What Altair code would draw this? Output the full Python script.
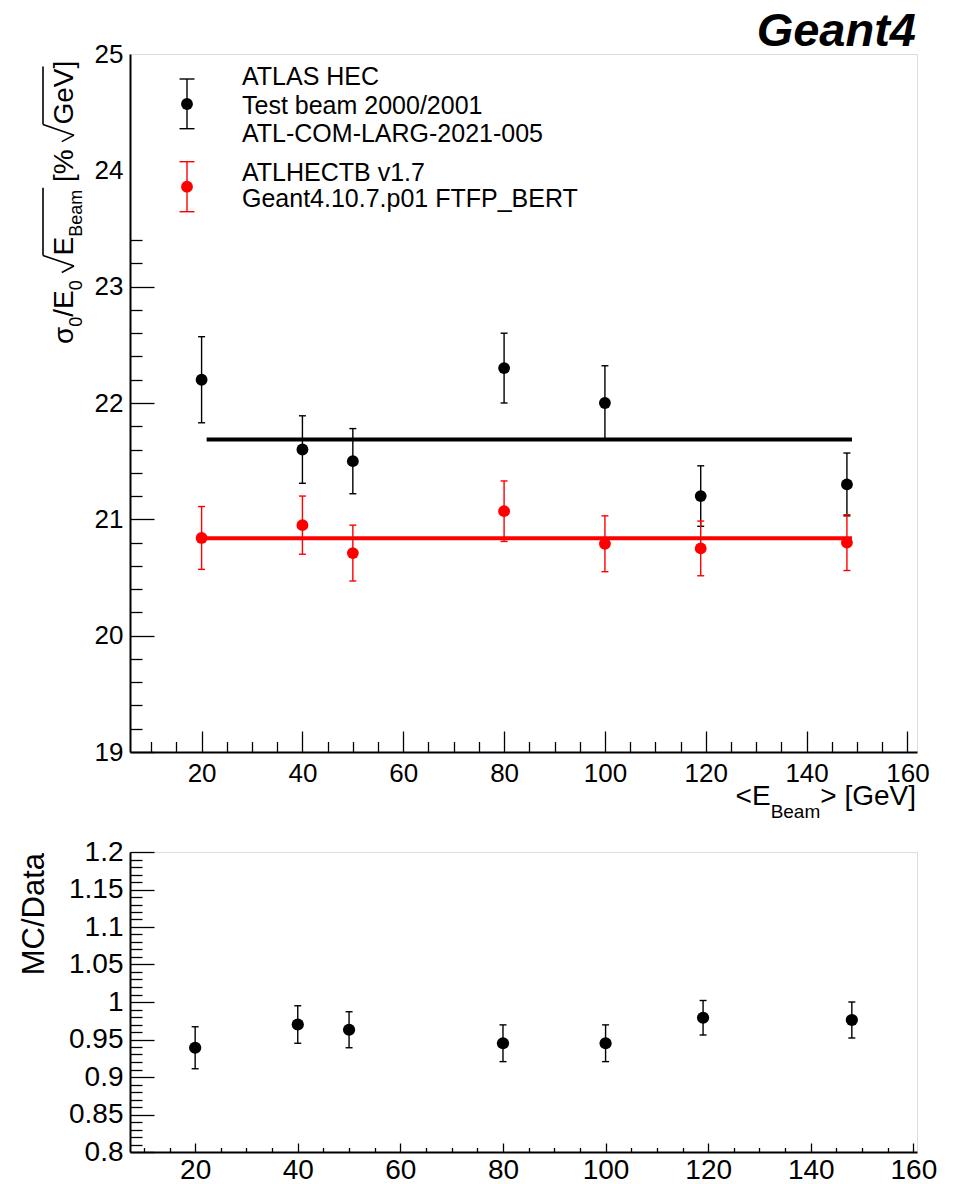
import altair as alt
import pandas as pd

FONT = "Liberation Sans"
NBSP = "\u00a0"

# ---------------- data ----------------
energy = [20, 40, 50, 80, 100, 119, 148]
data_res = [22.20, 21.60, 21.50, 22.30, 22.00, 21.20, 21.30]
data_err = [0.37, 0.29, 0.28, 0.30, 0.32, 0.26, 0.27]
mc_res = [20.84, 20.95, 20.71, 21.07, 20.79, 20.75, 20.80]
mc_err = [0.27, 0.25, 0.24, 0.26, 0.24, 0.235, 0.24]
ratio = [0.939, 0.970, 0.963, 0.945, 0.945, 0.979, 0.976]
ratio_err = [0.028, 0.025, 0.024, 0.0245, 0.0245, 0.023, 0.024]

fit_level = [21.686, 20.837]
fit_from = [21.0, 20.5]
fit_to = [149.0, 149.0]
fit_color = ["black", "red"]

# tick values / labels
top_x_labels = [20, 40, 60, 80, 100, 120, 140, 160]
x_minor = [10, 15, 25, 30, 35, 45, 50, 55, 65, 70, 75, 85, 90, 95,
           105, 110, 115, 125, 130, 135, 145, 150, 155]
top_y_labels = [19, 20, 21, 22, 23, 24, 25]
top_y_major = [19, 20, 21, 22, 23]
top_y_minor = [19.2, 19.4, 19.6, 19.8, 20.2, 20.4, 20.6, 20.8, 21.2, 21.4,
               21.6, 21.8, 22.2, 22.4, 22.6, 22.8, 23.2, 23.4]
bot_y_labels = [0.8, 0.85, 0.9, 0.95, 1.0, 1.05, 1.1, 1.15, 1.2]
bot_y_minor = [0.81, 0.82, 0.83, 0.84, 0.86, 0.87, 0.88, 0.89, 0.91, 0.92,
               0.93, 0.94, 0.96, 0.97, 0.98, 0.99, 1.01, 1.02, 1.03, 1.04,
               1.06, 1.07, 1.08, 1.09, 1.11, 1.12, 1.13, 1.14, 1.16, 1.17,
               1.18, 1.19]

data_df = pd.DataFrame({"x": energy, "y": data_res,
                        "lo": [v - e for v, e in zip(data_res, data_err)],
                        "hi": [v + e for v, e in zip(data_res, data_err)]})
mc_df = pd.DataFrame({"x": energy, "y": mc_res,
                      "lo": [v - e for v, e in zip(mc_res, mc_err)],
                      "hi": [v + e for v, e in zip(mc_res, mc_err)]})
ratio_df = pd.DataFrame({"x": energy, "y": ratio,
                         "lo": [v - e for v, e in zip(ratio, ratio_err)],
                         "hi": [v + e for v, e in zip(ratio, ratio_err)]})
fit_df = pd.DataFrame({"x1": fit_from, "x2": fit_to, "lvl": fit_level, "c": fit_color})
ONE = pd.DataFrame({"k": [0]})

# ---------------- geometry ----------------
W = 787
H1 = 698
H2 = 300
xs_top = alt.Scale(domain=[5.8, 161.9], nice=False, zero=False)
ys_top = alt.Scale(domain=[19, 25], nice=False, zero=False)
xs_bot = alt.Scale(domain=[7.3, 160.7], nice=False, zero=False)
ys_bot = alt.Scale(domain=[0.8, 1.2], nice=False, zero=False)
PT = 140


def axis_layers(src, xs, ys, xlab, xmaj, xmin, ylab, ymaj, ymin,
                xlen, ylen, lsize, xpad, ypad, yfmt):
    base = alt.Chart(src).mark_circle(opacity=0)
    lab = base.encode(
        x=alt.X("x:Q", scale=xs, axis=alt.Axis(
            orient="bottom", values=xlab, format="d", ticks=False, tickSize=0,
            domain=True, domainColor="black", domainWidth=2, labelFontSize=lsize,
            labelPadding=xpad, labelFlush=False, labelOverlap=False,
            labelFont=FONT, labelColor="black", grid=False, title=None)),
        y=alt.Y("y:Q", scale=ys, axis=alt.Axis(
            orient="left", values=ylab, format=yfmt, ticks=False, tickSize=0,
            domain=True, domainColor="black", domainWidth=2, labelFontSize=lsize,
            labelPadding=ypad, labelOverlap=False, labelFont=FONT,
            labelColor="black", grid=False, title=None)),
    )

    def tick_layer(xv, yv, xl, yl):
        return base.encode(
            x=alt.X("x:Q", scale=xs, axis=alt.Axis(
                orient="bottom", values=xv, offset=-xl, tickSize=xl, ticks=True,
                tickColor="black", tickWidth=1.3, labels=False, domain=False,
                grid=False, title=None)),
            y=alt.Y("y:Q", scale=ys, axis=alt.Axis(
                orient="left", values=yv, offset=-yl, tickSize=yl, ticks=True,
                tickColor="black", tickWidth=1.3, labels=False, domain=False,
                grid=False, title=None)),
        )

    return [lab, tick_layer(xmaj, ymaj, xlen, ylen),
            tick_layer(xmin, ymin, xlen / 2, ylen / 2)]


def series(df, xs, ys, color, size, lw=1.4):
    X = alt.X("x:Q", scale=xs, axis=None)
    bar = alt.Chart(df).mark_rule(color=color, strokeWidth=lw).encode(
        x=X, y=alt.Y("lo:Q", scale=ys, axis=None), y2="hi:Q")
    cap_lo = alt.Chart(df).mark_tick(color=color, orient="horizontal", size=7,
                                     thickness=lw, opacity=1).encode(
        x=X, y=alt.Y("lo:Q", scale=ys, axis=None))
    cap_hi = alt.Chart(df).mark_tick(color=color, orient="horizontal", size=7,
                                     thickness=lw, opacity=1).encode(
        x=X, y=alt.Y("hi:Q", scale=ys, axis=None))
    pts = alt.Chart(df).mark_circle(color=color, opacity=1, size=size).encode(
        x=X, y=alt.Y("y:Q", scale=ys, axis=None))
    return [bar, cap_lo, cap_hi, pts]


def txt(s, x, y, size, angle=0, align="left", weight="normal", style="normal"):
    return alt.Chart(ONE).mark_text(
        text=s, fontSize=size, font=FONT, angle=angle, align=align,
        baseline="alphabetic", fontWeight=weight, fontStyle=style,
        color="black").encode(x=alt.value(x), y=alt.value(y))


def seg(x1, y1, x2, y2, color="black", w=1.4):
    return alt.Chart(ONE).mark_rule(color=color, strokeWidth=w).encode(
        x=alt.value(x1), y=alt.value(y1), x2=alt.value(x2), y2=alt.value(y2))


def dot(x, y, color, size=PT):
    return alt.Chart(ONE).mark_circle(color=color, opacity=1, size=size).encode(
        x=alt.value(x), y=alt.value(y))


# ---------------- top panel ----------------
top_layers = axis_layers(data_df, xs_top, ys_top, top_x_labels, top_x_labels,
                         x_minor, top_y_labels, top_y_major, top_y_minor,
                         21, 24, 26, 8, 7, "d")

top_layers.append(
    alt.Chart(fit_df).mark_rule(strokeWidth=4).encode(
        x=alt.X("x1:Q", scale=xs_top, axis=None), x2="x2:Q",
        y=alt.Y("lvl:Q", scale=ys_top, axis=None),
        color=alt.Color("c:N", scale=None)))
top_layers += series(data_df, xs_top, ys_top, "black", PT)
top_layers += series(mc_df, xs_top, ys_top, "red", PT)

# legend
for (cy, y1, y2, col) in [(50, 25, 74.7, "black"), (132.7, 107.7, 157.7, "red")]:
    top_layers.append(seg(57, y1, 57, y2, col))
    top_layers.append(seg(49.5, y1, 64.5, y1, col))
    top_layers.append(seg(49.5, y2, 64.5, y2, col))
    top_layers.append(dot(57, cy, col))
legend_lines = [("ATLAS HEC", 31), ("Test beam 2000/2001", 60),
                ("ATL-COM-LARG-2021-005", 87.7), ("ATLHECTB v1.7", 126.7),
                ("Geant4.10.7.p01 FTFP_BERT", 152.7)]
for s, by in legend_lines:
    top_layers.append(txt(s, 112, by, 25))

# Geant4 label
top_layers.append(txt("Geant4", 786, -8, 47, align="right", weight="bold",
                      style="italic"))

# y title: sigma_0/E_0 sqrt(E_Beam) [% sqrt(GeV)]  (rotated, reads upward)
YT, YS = 28, 18
yt_base, yt_sub = -57, -48
RW = 17.0          # radical width along the text
RTOP = 30.0        # radical height above the baseline


def radical(y0, under):
    # text coords (u along text, v above baseline) -> screen
    def p(u, v):
        return yt_base - v, y0 - u
    a = p(0, 0.40 * YT)
    b = p(0.38 * RW, -1)
    c = p(RW, RTOP)
    d = p(RW + under + 2, RTOP)
    return [seg(a[0], a[1], b[0], b[1], "black", 1.6),
            seg(b[0], b[1], c[0], c[1], "black", 1.6),
            seg(c[0], c[1], d[0], d[1], "black", 1.6)]


w = {"σ": 0.617 * YT, "0s": 0.556 * YS, "/E": 0.945 * YT, "sp": 0.278 * YT,
     "E": 0.667 * YT, "Beam": 2.612 * YS, "[%": 1.167 * YT, "GeV": 2.001 * YT,
     "]": 0.278 * YT}
total = (w["σ"] + 2 * w["0s"] + w["/E"] + 3 * w["sp"] + 2 * RW + w["E"]
         + w["Beam"] + w["[%"] + w["sp"] + w["GeV"] + w["]"])
cur = -1 + total
top_layers.append(txt("σ", yt_base, cur, YT, angle=270)); cur -= w["σ"]
top_layers.append(txt("0", yt_sub, cur, YS, angle=270)); cur -= w["0s"]
top_layers.append(txt("/E", yt_base, cur, YT, angle=270)); cur -= w["/E"]
top_layers.append(txt("0", yt_sub, cur, YS, angle=270)); cur -= w["0s"]
cur -= w["sp"]
top_layers += radical(cur, w["E"] + w["Beam"]); cur -= RW
top_layers.append(txt("E", yt_base, cur, YT, angle=270)); cur -= w["E"]
top_layers.append(txt("Beam", yt_sub, cur, YS, angle=270)); cur -= w["Beam"]
cur -= w["sp"]
top_layers.append(txt("[%", yt_base, cur, YT, angle=270)); cur -= w["[%"]
cur -= w["sp"]
top_layers += radical(cur, w["GeV"]); cur -= RW
top_layers.append(txt("GeV]", yt_base, cur, YT, angle=270))

# x title: <E_Beam> [GeV]
XT, XS = 28, 19
xb, xsb = 751, 764
r1 = 786
top_layers.append(txt(">" + NBSP + "[GeV]", r1, xb, XT, align="right"))
r2 = r1 - 3.419 * XT
top_layers.append(txt("Beam", r2, xsb, XS, align="right"))
r3 = r2 - 2.612 * XS
top_layers.append(txt("<E", r3, xb, XT, align="right"))

top = alt.layer(*top_layers).properties(width=W, height=H1).resolve_axis(
    x="independent", y="independent")

# ---------------- bottom panel ----------------
bot_layers = axis_layers(ratio_df, xs_bot, ys_bot, top_x_labels, top_x_labels,
                         x_minor, bot_y_labels, bot_y_labels, bot_y_minor,
                         9, 24, 28, 4, 7, "~g")
bot_layers += series(ratio_df, xs_bot, ys_bot, "black", 150)
bot_layers.append(txt("MC/Data", -86, 1, 31, angle=270, align="right"))

bottom = alt.layer(*bot_layers).properties(width=W, height=H2).resolve_axis(
    x="independent", y="independent")

chart = alt.vconcat(top, bottom, spacing=100, bounds="flush").properties(
    padding={"left": 18, "top": 7, "right": 5, "bottom": 2},
    background="white",
).configure_view(stroke="black", strokeWidth=1).configure(font=FONT)

chart.save("out.html", embed_options={"renderer": "svg", "actions": False})
